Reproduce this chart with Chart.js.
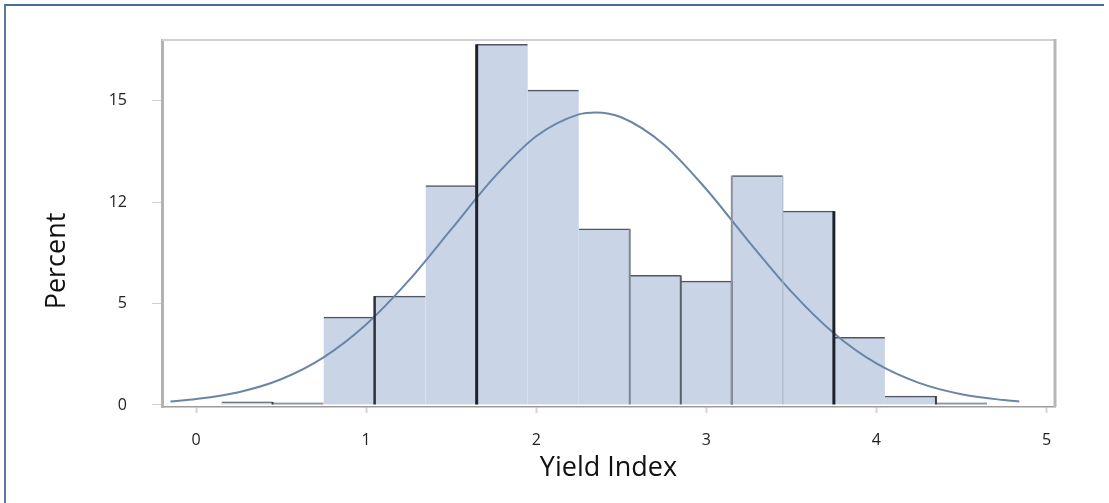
<!DOCTYPE html>
<html>
<head>
<meta charset="utf-8">
<title>Yield Index distribution</title>
<script src="https://cdn.jsdelivr.net/npm/chart.js@4/dist/chart.umd.min.js"></script>
<style>
  html, body { margin: 0; padding: 0; background: #ffffff; }
  #wrap { position: relative; width: 1109px; height: 503px; overflow: hidden; }
  #frame {
    position: absolute; left: 4px; top: 4px; width: 1100px; height: 510px;
    border-top: 2px solid #4b6e98; border-left: 2px solid #5a7aa0; box-sizing: border-box;
  }
  canvas { position: absolute; left: 0; top: 0; }
</style>
</head>
<body>
<div id="wrap">
  <div id="frame"></div>
  <canvas id="chart" width="1109" height="503"></canvas>
</div>
<script>
// Histogram bins (bin centres on the Yield Index axis, 0.3 wide) and their percentages
const binCenters = [0.3, 0.6, 0.9, 1.2, 1.5, 1.8, 2.1, 2.4, 2.7, 3.0, 3.3, 3.6, 3.9, 4.2, 4.5];
const binPercent = [0.15, 0.1, 4.33, 5.37, 10.82, 17.79, 15.53, 8.69, 6.39, 6.11, 11.31, 9.56, 3.33, 0.44, 0.1];

// Fitted density curve, sampled along the axis
const curveX = [-0.15, 0, 0.25, 0.5, 0.75, 1, 1.25, 1.5, 1.75, 2, 2.25, 2.35, 2.5, 2.75, 3, 3.25, 3.5, 3.75, 4, 4.25, 4.5, 4.75, 4.84];
const curveY = [0.17, 0.29, 0.63, 1.27, 2.35, 3.97, 6.13, 8.66, 11.2, 13.25, 14.33, 14.43, 14.19, 12.85, 10.64, 8.06, 5.59, 3.54, 2.05, 1.09, 0.53, 0.24, 0.17];

// Axis ticks
const xTickValues = [0, 1, 2, 3, 4, 5];
const xTickLabels = ['0', '1', '2', '3', '4', '5'];
const yTickValues = [0, 5, 10, 15];
const yTickLabels = ['0', '5', '12', '15'];

// Darker vertical outline strokes on some bar sides: [width, colour]
const barEdgeStyles = [
  { right: [2, '#3a3f48'] },
  {},
  {},
  { left: [2.5, '#2b3039'] },
  {},
  { left: [3, '#1d2129'] },
  {},
  { right: [2, '#7e8691'] },
  { right: [2, '#5b616c'] },
  { right: [2, '#4c525c'] },
  { left: [2, '#8b929c'], right: [1, '#aab3c0'] },
  { right: [3, '#1d2129'] },
  {},
  { right: [2, '#3a3f48'] },
  {}
];

const FONT = '"Open Sans", "DejaVu Sans", sans-serif';

const barEdges = {
  id: 'barEdges',
  afterDatasetsDraw(chart) {
    const meta = chart.getDatasetMeta(0);
    const ctx = chart.ctx;
    ctx.save();
    meta.data.forEach((el, i) => {
      const st = barEdgeStyles[i] || {};
      const p = el.getProps(['x', 'y', 'base', 'width'], true);
      const sides = [['left', p.x - p.width / 2], ['right', p.x + p.width / 2]];
      sides.forEach(([side, sx]) => {
        if (!st[side]) return;
        const [w, c] = st[side];
        ctx.beginPath();
        ctx.lineWidth = w;
        ctx.strokeStyle = c;
        ctx.moveTo(sx, p.y);
        ctx.lineTo(sx, p.base);
        ctx.stroke();
      });
    });
    ctx.restore();
  }
};

const plotFrame = {
  id: 'plotFrame',
  afterDraw(chart) {
    const { ctx, chartArea: a } = chart;
    ctx.save();
    ctx.strokeStyle = '#d0d0d0';
    ctx.lineWidth = 2;
    ctx.beginPath();
    ctx.moveTo(a.left, a.top);
    ctx.lineTo(a.right, a.top);
    ctx.stroke();
    ctx.strokeStyle = '#b6b6b6';
    ctx.lineWidth = 3;
    ctx.beginPath();
    ctx.moveTo(a.right, a.top - 1);
    ctx.lineTo(a.right, a.bottom);
    ctx.stroke();
    ctx.restore();
  }
};

new Chart(document.getElementById('chart'), {
  type: 'bar',
  data: {
    datasets: [
      {
        type: 'bar',
        data: binCenters.map((x, i) => ({ x: x, y: binPercent[i] })),
        backgroundColor: '#c9d5e6',
        borderColor: '#4f5561',
        borderWidth: { top: 1.5, left: 0, right: 0, bottom: 0 },
        barPercentage: 1,
        categoryPercentage: 1,
        grouped: false,
        order: 2
      },
      {
        type: 'line',
        data: curveX.map((x, i) => ({ x: x, y: curveY[i] })),
        borderColor: '#6a85a7',
        borderWidth: 2,
        pointRadius: 0,
        fill: false,
        cubicInterpolationMode: 'monotone',
        order: 1
      }
    ]
  },
  options: {
    responsive: false,
    animation: false,
    layout: { padding: { top: 40, bottom: 21, left: 0, right: 54 } },
    plugins: {
      legend: { display: false },
      tooltip: { enabled: false },
      title: {
        display: true,
        position: 'left',
        text: 'Percent',
        color: '#111111',
        font: { family: FONT, size: 27, weight: 'normal', lineHeight: 1.2 },
        padding: { top: 41, bottom: 0 }
      }
    },
    scales: {
      x: {
        type: 'linear',
        offset: false,
        min: -0.2,
        max: 5.05,
        afterBuildTicks: (s) => { s.ticks = xTickValues.map(v => ({ value: v })); },
        afterFit: (s) => { s.height = 75; },
        ticks: {
          callback: (v, i) => xTickLabels[i],
          color: '#222222',
          font: { family: FONT, size: 16 },
          padding: 18,
          maxRotation: 0
        },
        grid: { display: true, offset: false, drawOnChartArea: false, tickLength: 6, color: '#d4d4d4', tickWidth: 2 },
        border: { display: true, color: '#9c9c9c', width: 1.5 },
        title: {
          display: true,
          text: 'Yield Index',
          color: '#111111',
          font: { family: FONT, size: 27, lineHeight: 1 },
          padding: 0
        }
      },
      y: {
        type: 'linear',
        min: -0.1,
        max: 18,
        afterBuildTicks: (s) => { s.ticks = yTickValues.map(v => ({ value: v })); },
        afterFit: (s) => { s.width = 162 - 73.4; },
        ticks: {
          callback: (v, i) => yTickLabels[i],
          color: '#222222',
          font: { family: FONT, size: 16 },
          padding: 25
        },
        grid: { display: true, drawOnChartArea: false, tickLength: 10, color: '#cfcfcf' },
        border: { display: true, color: '#b3b3b3', width: 3 }
      }
    }
  },
  plugins: [barEdges, plotFrame]
});
</script>
</body>
</html>
